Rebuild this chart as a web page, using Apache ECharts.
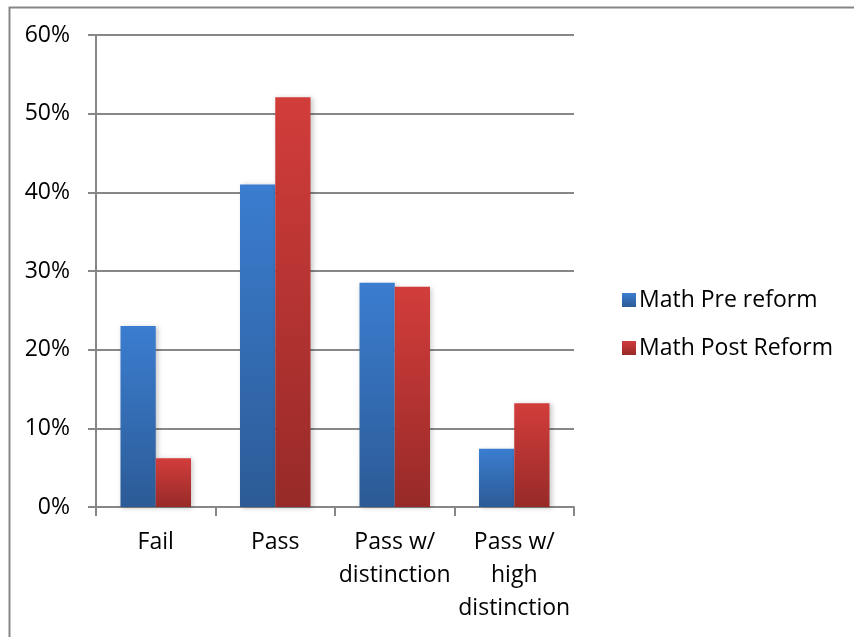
<!DOCTYPE html>
<html>
<head>
<meta charset="utf-8">
<script src="https://cdn.jsdelivr.net/npm/echarts@6/dist/echarts.min.js"></script>
<style>
  html, body { margin: 0; padding: 0; background: #fff; }
  #chart { width: 854px; height: 637px; }
</style>
</head>
<body>
<div id="chart"></div>
<script>
// Grade distribution before and after the math reform (percent of students)
const categories = ['Fail', 'Pass', 'Pass w/\ndistinction', 'Pass w/\nhigh\ndistinction'];
const seriesNames = ['Math Pre reform', 'Math Post Reform'];
const preReform = [23.0, 41.0, 28.5, 7.4];
const postReform = [6.2, 52.1, 28.0, 13.2];
const yTicks = { min: 0, max: 60, interval: 10 };

const FONT = 'Open Sans';
const FONT_SIZE = 23;
const GRID_GRAY = '#878787';

function vGrad(top, bottom) {
  return new echarts.graphic.LinearGradient(0, 0, 0, 1, [
    { offset: 0, color: top },
    { offset: 1, color: bottom }
  ]);
}

const barShadow = {
  shadowBlur: 5,
  shadowOffsetX: 2,
  shadowOffsetY: 1,
  shadowColor: 'rgba(0,0,0,0.22)'
};

const chart = echarts.init(document.getElementById('chart'), null, { renderer: 'canvas' });

chart.setOption({
  animation: false,
  backgroundColor: '#ffffff',
  textStyle: { fontFamily: FONT },
  graphic: [{
    type: 'rect',
    left: 7, top: 5,
    shape: { width: 900, height: 700 },
    style: { fill: 'none', stroke: GRID_GRAY, lineWidth: 2 },
    z: -1
  }],
  grid: { left: 96, top: 35, width: 478, height: 472 },
  legend: {
    orient: 'vertical',
    left: 617,
    top: 283,
    icon: 'rect',
    itemWidth: 14,
    itemHeight: 14,
    itemGap: 24,
    textStyle: { fontFamily: FONT, fontSize: FONT_SIZE, color: '#000', lineHeight: 24, padding: [0, 0, 0, -2] },
    data: seriesNames
  },
  xAxis: {
    type: 'category',
    data: categories,
    axisLine: { lineStyle: { color: GRID_GRAY, width: 2 } },
    axisTick: { show: true, length: 9, lineStyle: { color: GRID_GRAY, width: 2 } },
    axisLabel: { color: '#000', fontSize: FONT_SIZE, fontFamily: FONT, lineHeight: 33, margin: 19, interval: 0 }
  },
  yAxis: {
    type: 'value',
    min: yTicks.min,
    max: yTicks.max,
    interval: yTicks.interval,
    axisLine: { show: true, lineStyle: { color: GRID_GRAY, width: 2 } },
    axisTick: { show: true, length: 8, lineStyle: { color: GRID_GRAY, width: 2 } },
    splitLine: { show: true, lineStyle: { color: GRID_GRAY, width: 2 } },
    axisLabel: { color: '#000', fontSize: FONT_SIZE, fontFamily: FONT, margin: 26, formatter: '{value}%' }
  },
  series: [
    {
      name: seriesNames[0],
      type: 'bar',
      data: preReform,
      barGap: '0%',
      barCategoryGap: '41%',
      itemStyle: Object.assign({ color: vGrad('#3b7dd0', '#2c5b96') }, barShadow)
    },
    {
      name: seriesNames[1],
      type: 'bar',
      data: postReform,
      barGap: '0%',
      barCategoryGap: '41%',
      itemStyle: Object.assign({ color: vGrad('#d23d3b', '#972a28') }, barShadow)
    }
  ]
});
</script>
</body>
</html>
